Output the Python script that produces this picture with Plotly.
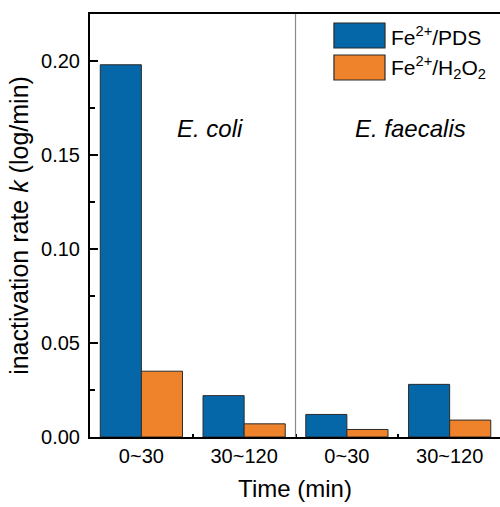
import plotly.graph_objects as go

# Inactivation rate constants k (log/min) per time window and organism
categories = ["0~30 ", "30~120 ", "0~30", "30~120"]
tick_labels = ["0~30", "30~120", "0~30", "30~120"]
fe_pds = [0.198, 0.022, 0.012, 0.028]
fe_h2o2 = [0.035, 0.007, 0.004, 0.009]
organisms = ["E. coli", "E. faecalis"]

BLUE = "#0667A8"
ORANGE = "#EE832C"
EDGE = "#2b2b2b"
FONT = "Liberation Sans, Arial, sans-serif"

fig = go.Figure()
fig.add_trace(go.Bar(x=categories, y=fe_pds, name="Fe2+/PDS",
                     marker=dict(color=BLUE, line=dict(color=EDGE, width=1))))
fig.add_trace(go.Bar(x=categories, y=fe_h2o2, name="Fe2+/H2O2",
                     marker=dict(color=ORANGE, line=dict(color=EDGE, width=1))))

fig.update_layout(
    width=500, height=507,
    margin=dict(l=90, r=0, t=14, b=70),
    paper_bgcolor="white", plot_bgcolor="white",
    barmode="group", bargap=0.2, bargroupgap=0,
    showlegend=False,
    font=dict(family=FONT, color="black", size=20),
)

fig.update_xaxes(
    type="category", range=[-0.5, 3.49],
    tickvals=categories, ticktext=tick_labels,
    tickson="boundaries", ticks="inside", ticklen=3, tickwidth=1.5, tickcolor="black",
    showline=True, linecolor="black", linewidth=2, mirror=True,
    showgrid=False, zeroline=False,
    tickfont=dict(size=20),
    title=dict(text="Time (min)", font=dict(size=24), standoff=14),
)
fig.update_yaxes(
    range=[0, 0.225],
    tickvals=[0, 0.05, 0.10, 0.15, 0.20], tickformat=".2f",
    ticks="inside", ticklen=8, tickwidth=1.5, tickcolor="black",
    minor=dict(tickvals=[0.025, 0.075, 0.125, 0.175, 0.225], ticks="inside",
               ticklen=5, tickwidth=1.5, tickcolor="black"),
    showline=True, linecolor="black", linewidth=2, mirror=False,
    showgrid=False, zeroline=False,
    tickfont=dict(size=20), ticklabelstandoff=4,
    title=dict(text="inactivation rate <i>k</i> (log/min)", font=dict(size=25), standoff=5),
)

# Divider between the two organisms
fig.add_shape(type="line", xref="x", yref="paper", x0=1.5, x1=1.5, y0=0, y1=1,
              line=dict(color="#8a8a8a", width=1.2))

# Organism labels
for xpos, name in zip([0.67, 2.62], organisms):
    fig.add_annotation(x=xpos, y=0.164, xref="x", yref="y", text=f"<i>{name}</i>",
                       showarrow=False, font=dict(size=24, family=FONT))

# Legend drawn with boxes and labels
legend_items = [(BLUE, "Fe<sup>2+</sup>/PDS", 0.9787, 0.9196),
                (ORANGE, "Fe<sup>2+</sup>/H<sub>2</sub>O<sub>2</sub>", 0.9031, 0.844)]
for color, label, ytop, ybot in legend_items:
    fig.add_shape(type="rect", xref="paper", yref="paper", x0=0.595, x1=0.7195,
                  y0=ybot, y1=ytop, fillcolor=color, line=dict(color=EDGE, width=1.2))
    fig.add_annotation(x=0.730, y=(ytop + ybot) / 2, xref="paper", yref="paper",
                       xanchor="left", yanchor="middle", text=label, showarrow=False,
                       font=dict(size=21, family=FONT))

fig.write_html("out.html")
